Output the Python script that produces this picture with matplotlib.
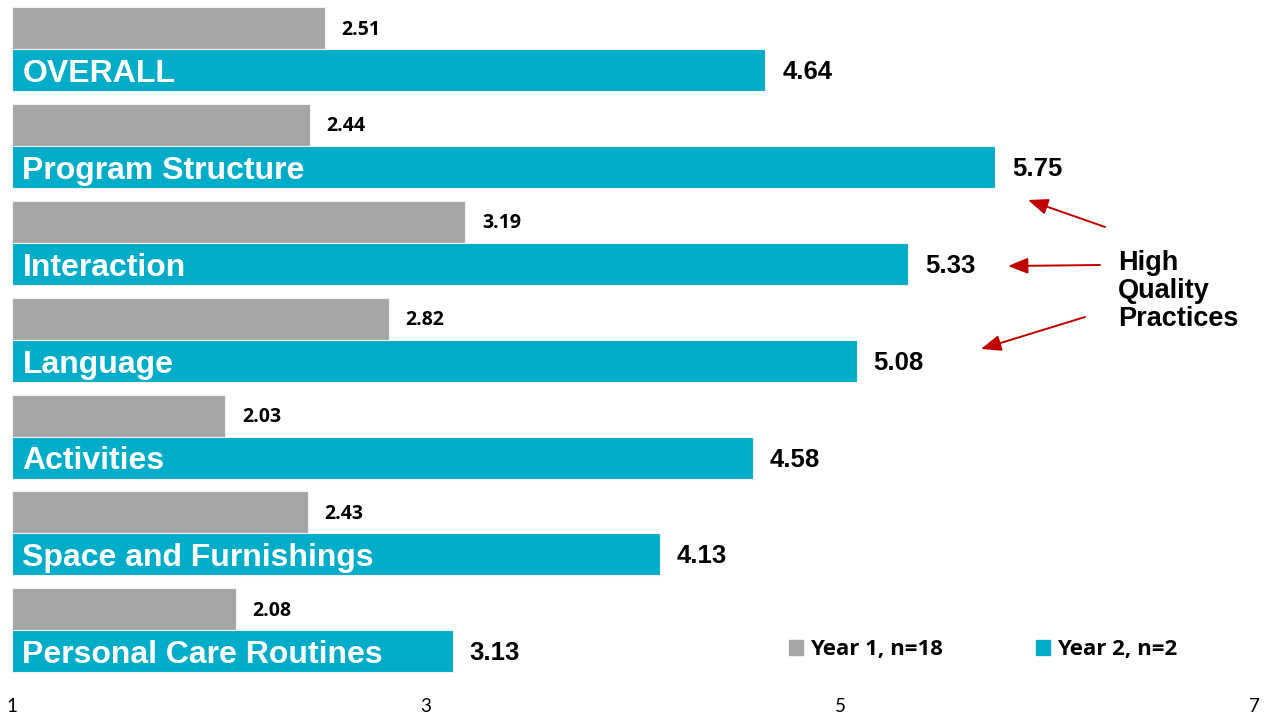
import matplotlib.pyplot as plt
from matplotlib.patches import Patch
import numpy as np

categories = ['OVERALL', 'Program Structure', 'Interaction', 'Language',
              'Activities', 'Space and Furnishings', 'Personal Care Routines']
year1 = [2.51, 2.44, 3.19, 2.82, 2.03, 2.43, 2.08]
year2 = [4.64, 5.75, 5.33, 5.08, 4.58, 4.13, 3.13]
series_names = ['Year 1, n=18', 'Year 2, n=2']
ticks = [1, 3, 5, 7]

GRAY = '#A5A5A5'
TEAL = '#00ADC9'
base = 1

fig = plt.figure(figsize=(12.72, 7.22), dpi=100)
ax = fig.add_axes([12 / 1272, 0.060, 1242 / 1272, 0.939])

y = np.arange(len(categories))
h = 0.434
ax.barh(y - h / 2, np.array(year1) - base, left=base, height=h,
        color=GRAY, edgecolor='#F2F2F2', linewidth=0.8)
ax.barh(y + h / 2, np.array(year2) - base, left=base, height=h,
        color=TEAL, edgecolor='#F2F2F2', linewidth=0.8)

for i, (v1, v2, name) in enumerate(zip(year1, year2, categories)):
    ax.annotate('%.2f' % v1, (v1, i - h / 2), xytext=(12, -1),
                textcoords='offset points', va='center', ha='left',
                fontsize=14, fontweight='bold', family='Open Sans')
    ax.annotate('%.2f' % v2, (v2, i + h / 2), xytext=(12, -6.5),
                textcoords='offset points', va='baseline', ha='left',
                fontsize=18.5, fontweight='bold', family='Liberation Sans')
    ax.annotate(name, (base, i + h / 2), xytext=(7.5, -8.5),
                textcoords='offset points', va='baseline', ha='left',
                fontsize=23, fontweight='bold', color='white',
                family='Liberation Sans')

ax.set_xlim(1, 7)
ax.set_ylim(len(categories) - 0.5, -0.5)
ax.set_xticks(ticks)
ax.set_xticklabels([str(t) for t in ticks], family='Lato', fontsize=13.5)
ax.set_yticks([])
ax.tick_params(axis='x', length=0, pad=14)
for s in ax.spines.values():
    s.set_visible(False)

# callout pointing at the top-scoring domains
fig.text(1118 / 1272, 1 - 291 / 722, 'High\nQuality\nPractices',
         ha='left', va='center', fontsize=19.5, fontweight='bold',
         family='Liberation Sans', linespacing=1.08)
arrows = [((1105, 227), (1028, 200)),
          ((1100, 265), (1008, 266)),
          ((1085, 317), (981, 349))]
for (x0, y0), (x1, y1) in arrows:
    ax.annotate('', xy=(x1, 722 - y1), xycoords='figure pixels',
                xytext=(x0, 722 - y0), textcoords='figure pixels',
                arrowprops=dict(arrowstyle='-|>,head_length=0.55,head_width=0.22',
                                color='#C00000', lw=1.4,
                                mutation_scale=22, shrinkA=0, shrinkB=0))

handles = [Patch(color=GRAY), Patch(color=TEAL)]
leg = fig.legend(handles, series_names, loc='center left',
                 bbox_to_anchor=(789 / 1272, 1 - 650 / 722), ncol=2,
                 frameon=False, handlelength=0.63, handleheight=0.63,
                 handletextpad=0.3, columnspacing=4.2,
                 borderpad=0, borderaxespad=0,
                 prop={'family': 'Open Sans', 'weight': 'bold', 'size': 16})

fig.savefig('out.png', dpi=100)
